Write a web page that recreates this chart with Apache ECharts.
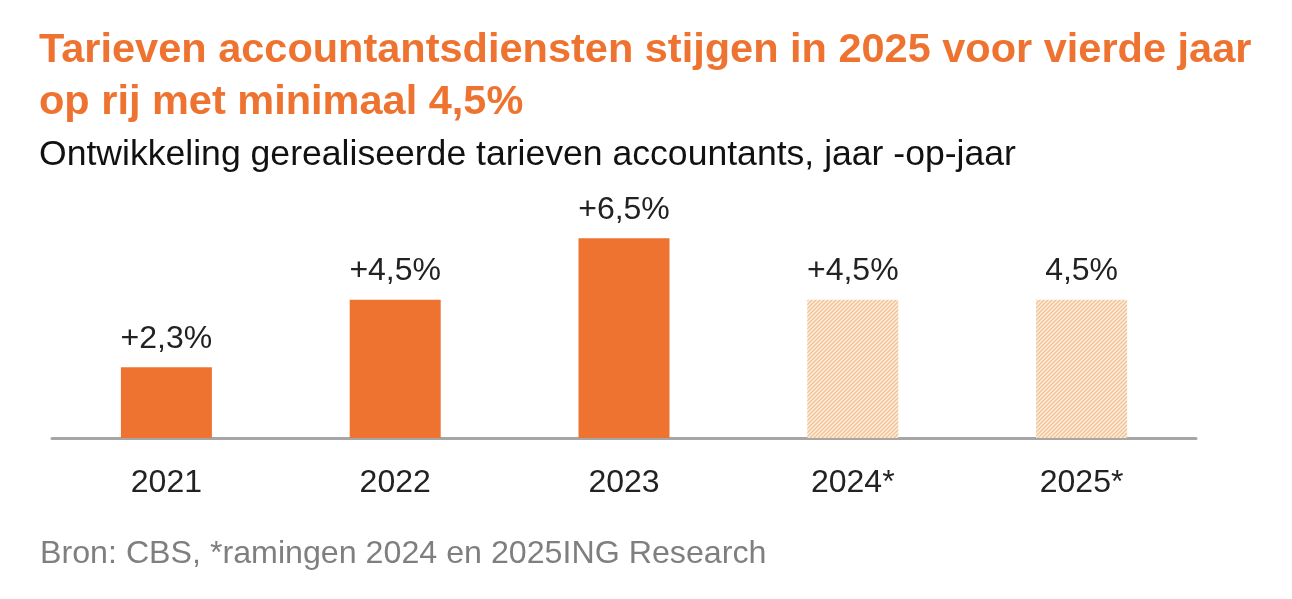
<!DOCTYPE html>
<html><head><meta charset="utf-8">
<script src="https://cdn.jsdelivr.net/npm/echarts@6/dist/echarts.min.js"></script>
<style>html,body{margin:0;padding:0;background:#fff}#c{width:1292px;height:599px}</style>
</head><body><div id="c"></div>
<script>
const categories = ['2021', '2022', '2023', '2024*', '2025*'];
const values = [2.3, 4.5, 6.5, 4.5, 4.5];
const valueLabels = ['+2,3%', '+4,5%', '+6,5%', '+4,5%', '4,5%'];
const estimated = [false, false, false, true, true];

const orange = '#ee7330';
function hatch() {
  const c = document.createElement('canvas');
  c.width = 4; c.height = 4;
  const g = c.getContext('2d');
  g.fillStyle = '#fcefe2'; g.fillRect(0, 0, 4, 4);
  g.strokeStyle = '#f2c291'; g.lineWidth = 1.4;
  g.beginPath();
  g.moveTo(-1, 5); g.lineTo(5, -1);
  g.moveTo(-1, 1); g.lineTo(1, -1);
  g.moveTo(3, 5); g.lineTo(5, 3);
  g.stroke();
  return { image: c, repeat: 'repeat' };
}
const pat = hatch();
const font = '"Liberation Sans", Arial, sans-serif';

const chart = echarts.init(document.getElementById('c'), null, { renderer: 'canvas' });
chart.setOption({
  animation: false,
  title: [
    { text: 'Tarieven accountantsdiensten stijgen in 2025 voor vierde jaar\nop rij met minimaal 4,5%', left: 34, top: 20,
      textStyle: { color: orange, fontSize: 41.5, fontWeight: 'bold', fontFamily: font, lineHeight: 52 } },
    { text: 'Ontwikkeling gerealiseerde tarieven accountants, jaar -op-jaar', left: 34, top: 132,
      textStyle: { color: '#111', fontSize: 35.6, fontWeight: 'normal', fontFamily: font } },
    { text: 'Bron: CBS, *ramingen 2024 en 2025ING Research', left: 35, top: 533,
      textStyle: { color: '#7f7f7f', fontSize: 32.2, fontWeight: 'normal', fontFamily: font } }
  ],
  grid: { left: 52, right: 96, top: 192, bottom: 161 },
  xAxis: {
    type: 'category', data: categories,
    axisLine: { lineStyle: { color: '#a6a6a6', width: 3 } },
    axisTick: { show: false },
    axisLabel: { color: '#222', fontSize: 32, fontFamily: font, margin: 29 }
  },
  yAxis: { type: 'value', min: 0, max: 8, show: false, splitLine: { show: false } },
  series: [{
    type: 'bar', barWidth: 91,
    data: values.map((v, i) => ({
      value: v,
      itemStyle: { color: estimated[i] ? pat : orange },
      label: { formatter: valueLabels[i] }
    })),
    label: { show: true, position: 'top', distance: 12, color: '#222', fontSize: 32, fontFamily: font }
  }]
});
</script></body></html>
